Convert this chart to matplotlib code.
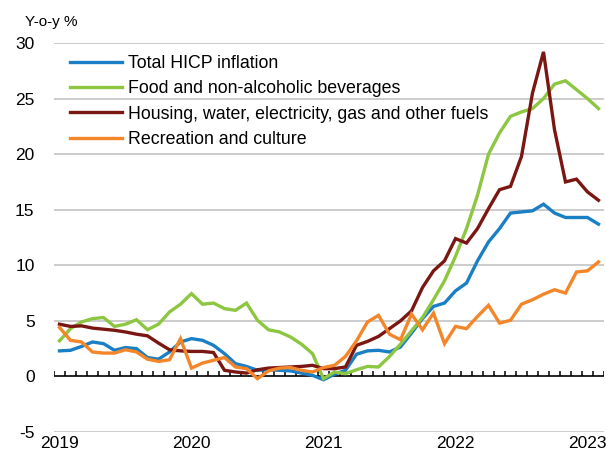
import numpy as np
import pandas as pd
import matplotlib
matplotlib.use("Agg")
import matplotlib.pyplot as plt

plt.rcParams['font.family'] = ['Liberation Sans', 'DejaVu Sans']
plt.rcParams['axes.unicode_minus'] = False

# Monthly data, Jan 2019 - Feb 2023 (y-o-y %)
months = pd.date_range("2019-01-01", "2023-02-01", freq="MS")

total_hicp = [2.3, 2.35, 2.7, 3.1, 2.95, 2.35, 2.6, 2.5, 1.7, 1.55, 2.2, 3.1,
              3.4, 3.25, 2.8, 2.05, 1.15, 0.9, 0.55, 0.6, 0.55, 0.5, 0.3, 0.1,
              -0.3, 0.2, 0.55, 2.0, 2.3, 2.35, 2.2, 2.65, 3.9, 5.2, 6.3, 6.6,
              7.7, 8.4, 10.4, 12.1, 13.3, 14.7, 14.8, 14.9, 15.5, 14.7, 14.3, 14.3,
              14.3, 13.7]
food = [3.2, 4.3, 4.9, 5.2, 5.3, 4.5, 4.7, 5.1, 4.2, 4.7, 5.8, 6.5,
        7.45, 6.5, 6.6, 6.1, 5.95, 6.6, 5.05, 4.2, 4.0, 3.55, 2.9, 2.05,
        -0.2, 0.4, 0.25, 0.6, 0.9, 0.85, 1.8, 2.9, 4.1, 5.3, 6.9, 8.6,
        10.8, 13.3, 16.3, 20.0, 21.9, 23.4, 23.8, 24.1, 25.0, 26.3, 26.6, 25.8,
        25.0, 24.1]
housing = [4.7, 4.5, 4.55, 4.35, 4.25, 4.15, 4.0, 3.8, 3.65, 3.0, 2.4, 2.3,
           2.25, 2.25, 2.15, 0.55, 0.4, 0.3, 0.6, 0.75, 0.8, 0.85, 0.9, 1.0,
           0.7, 0.7, 0.85, 2.8, 3.15, 3.6, 4.3, 5.0, 5.9, 8.0, 9.5, 10.4,
           12.4, 12.0, 13.3, 15.1, 16.8, 17.1, 19.8, 25.5, 29.2, 22.2, 17.5, 17.75,
           16.6, 15.85]
recreation = [4.4, 3.25, 3.1, 2.2, 2.1, 2.1, 2.4, 2.2, 1.55, 1.35, 1.5, 3.4,
              0.75, 1.2, 1.45, 1.7, 0.85, 0.7, -0.2, 0.5, 0.75, 0.8, 0.55, 0.4,
              0.8, 1.0, 1.8, 3.2, 4.9, 5.5, 3.8, 3.3, 5.6, 4.2, 5.7, 2.95,
              4.5, 4.3, 5.4, 6.4, 4.8, 5.05, 6.5, 6.9, 7.4, 7.8, 7.5, 9.4,
              9.5, 10.3]

series = [
    ("Total HICP inflation", total_hicp, "#1a7fc4"),
    ("Food and non-alcoholic beverages", food, "#8dc641"),
    ("Housing, water, electricity, gas and other fuels", housing, "#7a1712"),
    ("Recreation and culture", recreation, "#f4862a"),
]

fig = plt.figure(figsize=(6.06, 4.54), dpi=100)
ax = fig.add_axes([54/606, 1 - 432/454, 550/606, 389/454])

x = np.arange(len(months))

# grid lines
for g in [-5, 5, 10, 15, 20, 25, 30]:
    ax.axhline(g, color="#c8c8c8", lw=1.3, zorder=0)

for name, vals, col in series:
    ax.plot(x, vals, color=col, lw=2.4, label=name, zorder=3, solid_joinstyle="miter")

# zero axis with monthly tick marks
ax.axhline(0, color="black", lw=1.2, zorder=2)
ax.vlines(np.arange(len(months) + 1) - 0.5, 0, 0.5, color="black", lw=1.1, zorder=2)

ax.set_xlim(-0.5, len(months) - 0.5)
ax.set_ylim(-5, 30)
for s in ax.spines.values():
    s.set_visible(False)

ax.set_yticks([-5, 0, 5, 10, 15, 20, 25, 30])
ax.tick_params(axis="y", length=0, pad=14, labelsize=12.5)
year_idx = [i for i, m in enumerate(months) if m.month == 1]
ax.set_xticks(year_idx)
ax.set_xticklabels([str(months[i].year) for i in year_idx])
ax.tick_params(axis="x", length=0, pad=3, labelsize=12.5)

fig.text(25/606, 1 - 22/454, "Y-o-y %", fontsize=11, va="center", ha="left")

ax.legend(loc="upper left", bbox_to_anchor=(16/550, (432 - 55)/389), frameon=False,
          fontsize=12.8, handlelength=2.95, handletextpad=0.33, labelspacing=0.47,
          borderpad=0, borderaxespad=0)

fig.savefig("out.png", dpi=100)
